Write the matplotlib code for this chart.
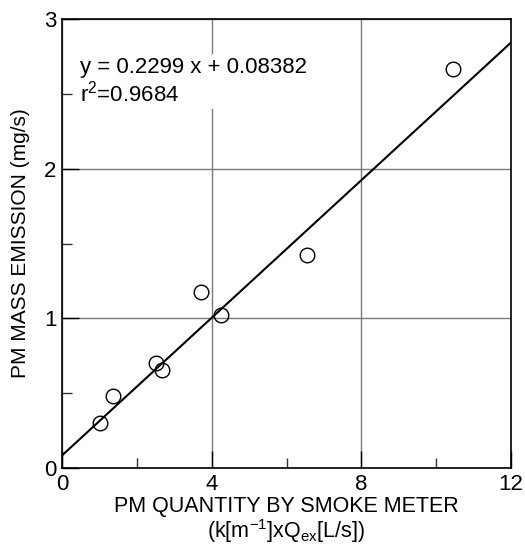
import matplotlib
matplotlib.use("Agg")
import matplotlib.pyplot as plt
import numpy as np
from matplotlib.ticker import MultipleLocator

plt.rcParams['font.family'] = ['Liberation Sans', 'DejaVu Sans']
plt.rcParams['mathtext.fontset'] = 'custom'
plt.rcParams['mathtext.rm'] = 'Liberation Sans'
plt.rcParams['mathtext.it'] = 'Liberation Sans'

# data
x_vals = [1.02, 1.35, 2.51, 2.67, 3.71, 4.25, 6.54, 10.44]
y_vals = [0.299, 0.481, 0.699, 0.653, 1.178, 1.020, 1.423, 2.664]
slope = 0.2299
intercept = 0.08382
r2 = 0.9684
x_ticks = [0, 4, 8, 12]
y_ticks = [0, 1, 2, 3]

fig = plt.figure(figsize=(5.25, 5.5), dpi=100)
ax = fig.add_axes([62/525, (550-468)/550, 449/525, 449/550])

ax.set_xlim(0, 12)
ax.set_ylim(0, 3)
ax.set_xticks(x_ticks)
ax.set_yticks(y_ticks)
ax.xaxis.set_minor_locator(MultipleLocator(2))
ax.yaxis.set_minor_locator(MultipleLocator(0.5))
ax.grid(True, which='major', color='#7a7a7a', linewidth=1.0, zorder=0)
ax.set_axisbelow(True)
ax.tick_params(which='major', direction='in', length=12, width=1.0, labelsize=16, pad=4, color='black')
ax.tick_params(which='minor', direction='in', length=7, width=1.0, color='#333333')
for sp in ax.spines.values():
    sp.set_linewidth(1.2)
    sp.set_color('black')

xl = np.array([0, 12])
ax.plot(xl, slope * xl + intercept, color='black', linewidth=1.5, zorder=3)
ax.plot(x_vals, y_vals, linestyle='none', marker='o', markersize=10.5,
        markerfacecolor='none', markeredgecolor='black', markeredgewidth=1.0, zorder=4)

ax.text(0.48, 2.582, f"y = {slope} x + {intercept}\nr$^{{2}}$={r2}", fontsize=16,
        ha='left', va='center', linespacing=1.15,
        bbox=dict(facecolor='white', edgecolor='none', pad=2), zorder=2)

ax.set_ylabel("PM MASS EMISSION (mg/s)", fontsize=15, labelpad=10)
ax.set_xlabel("PM QUANTITY BY SMOKE METER\n(k[m$^{-1}$]xQ$_{\\mathregular{ex}}$[L/s])",
              fontsize=15.5, labelpad=1, linespacing=1.0)

fig.savefig("out.png", dpi=100)
